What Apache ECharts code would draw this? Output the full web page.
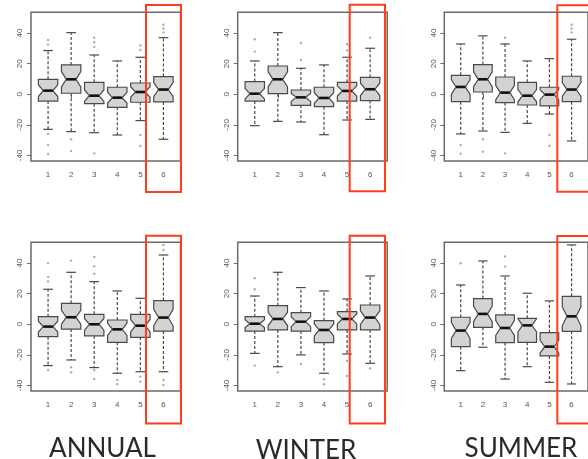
<!DOCTYPE html>
<html><head><meta charset="utf-8">
<script src="https://cdn.jsdelivr.net/npm/echarts@6/dist/echarts.min.js"></script>
<style>html,body{margin:0;padding:0;background:#fff}#c{width:588px;height:459px}</style>
</head><body><div id="c"></div><script>
const categories = [1, 2, 3, 4, 5, 6];
const seasons = ['ANNUAL', 'WINTER', 'SUMMER'];
const yTicks = [-40, -20, 0, 20, 40];
const sampleSize = 34;

// each row: [lower whisker, Q1, median, Q3, upper whisker] for categories 1..6
const annualTopBoxes = [
  [-22.9, -4.4, 2.4, 9.8, 28.6],
  [-24.4, 0.7, 9.8, 19.2, 40.3],
  [-25.1, -6.1, -0.9, 7.8, 25.7],
  [-26.6, -8.5, -2.2, 4.6, 21.8],
  [-17.2, -5.2, 1.5, 7.4, 24.2],
  [-29.4, -5.0, 3.1, 11.6, 37.0]
];
const annualTopOutliers = [[1,35.5],[1,32.5],[1,-25.9],[1,-33.1],[1,-39],[2,-29.4],[2,-37.1],[3,37],[3,34],[3,31],[3,-38.6],[5,32],[5,29],[5,-26.6],[5,-33.8],[6,45.5],[6,43],[6,40.5]];

const winterTopBoxes = [
  [-20.5, -4.4, 0.4, 8.3, 21.8],
  [-17.7, 0.4, 9.8, 18.5, 40.3],
  [-18.1, -7.2, -2.0, 2.8, 17.0],
  [-26.4, -8.1, -2.4, 4.6, 19.2],
  [-16.8, -4.4, 2.2, 7.8, 24.2],
  [-16.4, -4.1, 3.3, 11.1, 30.1]
];
const winterTopOutliers = [[1,36],[1,27.9],[3,33.5],[3,22.5],[5,32.7],[5,28.6],[6,37]];

const summerTopBoxes = [
  [-25.9, -4.8, 4.8, 12.4, 32.9],
  [-24.0, 1.5, 9.8, 19.4, 38.2],
  [-24.9, -5.5, 1.1, 11.3, 32.9],
  [-19.0, -7.0, -0.9, 7.8, 21.8],
  [-12.9, -7.6, -0.2, 4.6, 23.3],
  [-30.5, -4.8, 3.1, 11.8, 36.0]
];
const summerTopOutliers = [[1,-33.1],[1,-38.8],[2,-29.4],[2,-37.5],[3,37],[3,-38.6],[5,-26.6],[5,-33.6],[6,45.5],[6,43],[6,40.5]];

const annualBottomBoxes = [
  [-27.0, -8.1, -1.5, 5.0, 22.9],
  [-23.3, -3.1, 4.6, 13.7, 34.0],
  [-28.3, -7.6, 0.0, 6.5, 27.9],
  [-32.0, -11.8, -3.3, 2.8, 21.8],
  [-31.0, -8.5, -0.9, 6.5, 17.0],
  [-31.0, -4.4, 4.4, 15.5, 45.3]
];
const annualBottomOutliers = [[1,40],[1,31],[1,28],[1,-29.9],[2,41.6],[2,-28.1],[2,-31.4],[3,44],[3,38],[3,33],[3,-29.9],[3,-35.8],[4,-36.4],[4,-39.2],[5,-34.2],[5,-37.5],[6,51.9],[6,48.6],[6,-36.4],[6,-39.7]];

const winterBottomBoxes = [
  [-19.0, -4.4, 0.4, 5.0, 18.5],
  [-27.7, -3.7, 3.5, 12.2, 34.0],
  [-20.0, -4.4, 1.7, 7.6, 24.0],
  [-32.0, -12.0, -3.7, 2.4, 21.8],
  [-19.4, -3.7, 3.5, 8.3, 16.6],
  [-25.5, -3.7, 4.4, 12.6, 31.6]
];
const winterBottomOutliers = [[1,30.1],[1,22.9],[1,-27],[2,-31.4],[3,-25.9],[4,-36],[4,-39.2],[5,-24],[5,-33.8],[6,-28.8]];

const summerBottomBoxes = [
  [-30.3, -14.6, -4.1, 4.6, 25.7],
  [-15.0, -2.0, 6.8, 16.8, 41.4],
  [-35.8, -12.0, -2.4, 6.1, 31.6],
  [-27.7, -11.8, -0.7, 3.9, 20.3],
  [-37.9, -20.7, -14.6, -5.5, 15.3],
  [-39.0, -4.6, 5.2, 18.3, 51.9]
];
const summerBottomOutliers = [[1,39.9],[3,44.3],[3,37.7]];

const panels = [
  {boxes: annualTopBoxes, outliers: annualTopOutliers},
  {boxes: winterTopBoxes, outliers: winterTopOutliers},
  {boxes: summerTopBoxes, outliers: summerTopOutliers},
  {boxes: annualBottomBoxes, outliers: annualBottomOutliers},
  {boxes: winterBottomBoxes, outliers: winterBottomOutliers},
  {boxes: summerBottomBoxes, outliers: summerBottomOutliers}
];

// layout (pixels)
const colLeft = [31, 237.7, 444.3];
const rowTop = [12.3, 242.3];
const gW = 149.5, gH = 148.7;
const boxHalf = 0.42;

function renderBox(params, api) {
  const x = api.value(0), lo = api.value(1), q1 = api.value(2), md = api.value(3), q3 = api.value(4), hi = api.value(5);
  const nh = 1.58 * (q3 - q1) / Math.sqrt(sampleSize);
  const hw = boxHalf;
  const c = (a, b) => api.coord([a, b]);
  const pts = [[x-hw,q1],[x+hw,q1],[x+hw,md-nh],[x+hw/2,md],[x+hw,md+nh],[x+hw,q3],[x-hw,q3],[x-hw,md+nh],[x-hw/2,md],[x-hw,md-nh]].map(p => c(p[0], p[1]));
  const dash = {stroke: '#4a4a4a', lineWidth: 1.2, lineDash: [3, 2]};
  const solid = {stroke: '#4a4a4a', lineWidth: 1.2};
  const seg = (a, b, style) => ({type: 'line', shape: {x1: a[0], y1: a[1], x2: b[0], y2: b[1]}, style: style});
  return {type: 'group', children: [
    seg(c(x, q3), c(x, hi), dash),
    seg(c(x, q1), c(x, lo), dash),
    seg(c(x-hw/2, hi), c(x+hw/2, hi), solid),
    seg(c(x-hw/2, lo), c(x+hw/2, lo), solid),
    {type: 'polygon', shape: {points: pts}, style: {fill: '#d3d3d3', stroke: '#4a4a4a', lineWidth: 1.2}},
    seg(c(x-hw/2, md), c(x+hw/2, md), {stroke: '#111', lineWidth: 2.6})
  ]};
}

const grids = [], xAxes = [], yAxes = [], series = [];
panels.forEach((p, i) => {
  const col = i % 3, row = Math.floor(i / 3);
  grids.push({left: colLeft[col], top: rowTop[row], width: gW, height: gH, show: true, borderColor: '#6a6a6a', borderWidth: 1.5, backgroundColor: 'transparent', containLabel: false});
  xAxes.push({gridIndex: i, type: 'value', min: 0.26, max: 6.74,
    axisLine: {show: false}, splitLine: {show: false},
    axisTick: {show: true, customValues: categories, length: 4, lineStyle: {color: '#6a6a6a', width: 1}},
    axisLabel: {customValues: categories, fontSize: 8, color: '#555', margin: 10, fontFamily: 'Liberation Sans'}});
  yAxes.push({gridIndex: i, type: 'value', min: -43.6, max: 53.6,
    axisLine: {show: false}, splitLine: {show: false},
    axisTick: {show: true, customValues: yTicks, length: 4, lineStyle: {color: '#6a6a6a', width: 1}},
    axisLabel: {customValues: yTicks, rotate: 90, fontSize: 8, color: '#555', margin: 7, fontFamily: 'Liberation Sans'}});
  series.push({type: 'custom', xAxisIndex: i, yAxisIndex: i, clip: false,
    data: p.boxes.map((b, j) => [categories[j]].concat(b)),
    encode: {x: 0, y: [1, 2, 3, 4, 5]}, renderItem: renderBox, silent: true});
  series.push({type: 'scatter', xAxisIndex: i, yAxisIndex: i, data: p.outliers, symbolSize: 2.4,
    itemStyle: {color: '#999'}, silent: true, z: 3});
});

const redRects = [
  [146, 5, 35, 187], [349.7, 4.7, 35.3, 186.5], [557.3, 5.3, 40, 186.4],
  [146, 235.7, 35, 187.8], [349.7, 235.7, 35.3, 187.8], [557.3, 236, 40, 187.5]
];
const graphics = redRects.map(r => ({type: 'rect', shape: {x: r[0], y: r[1], width: r[2], height: r[3]},
  style: {fill: 'none', stroke: '#ff3f1c', lineWidth: 2}, z: 100}));
const titleX = [102.5, 306, 521];
seasons.forEach((s, k) => graphics.push({type: 'text', x: titleX[k], y: k === 1 ? 451 : 449, z: 100,
  style: {text: s, fill: '#2a2a2a', fontSize: 26, fontFamily: 'Lato', align: 'center', verticalAlign: 'middle'}}));

const chart = echarts.init(document.getElementById('c'), null, {renderer: 'canvas'});
chart.setOption({animation: false, grid: grids, xAxis: xAxes, yAxis: yAxes, series: series, graphic: graphics});
</script></body></html>
